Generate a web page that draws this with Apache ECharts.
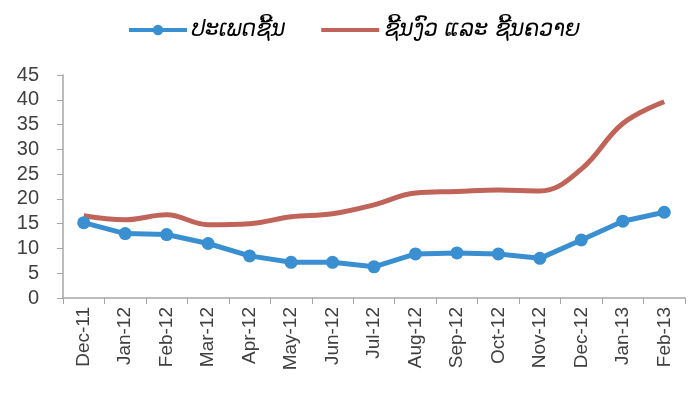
<!DOCTYPE html>
<html>
<head>
<meta charset="utf-8">
<script src="https://cdn.jsdelivr.net/npm/echarts@6/dist/echarts.min.js"></script>
<style>
    html, body { margin: 0; padding: 0; background: #fff; }
    #chart { width: 696px; height: 400px; }
</style>
</head>
<body>
<div id="chart"></div>
<script>
    // months shown on the x axis
    let months = ['Dec-11', 'Jan-12', 'Feb-12', 'Mar-12', 'Apr-12', 'May-12', 'Jun-12',
        'Jul-12', 'Aug-12', 'Sep-12', 'Oct-12', 'Nov-12', 'Dec-12', 'Jan-13', 'Feb-13'];
    let meatTypes = [15.2, 13.0, 12.8, 11.0, 8.5, 7.2, 7.2, 6.3, 8.9, 9.1, 8.9, 8.0, 11.7, 15.5, 17.3];
    let beefBuffalo = [16.6, 15.8, 16.8, 14.8, 15.0, 16.4, 17.0, 18.8, 21.2, 21.5, 21.8, 21.6, 26.0, 35.2, 39.6];
    let seriesNames = ['ປະເພດຊີ້ນ', 'ຊີ້ນງົວ ແລະ ຊີ້ນຄວາຍ'];

    let chart = echarts.init(document.getElementById('chart'));
    let axisColor = '#a6a6a6';
    let textColor = '#404040';
    let blue = '#3a8fd1';
    let red = '#c0645a';

    chart.setOption({
        animation: false,
        legend: {
            top: 14,
            left: 122,
            itemWidth: 58,
            itemHeight: 13,
            itemGap: 34,
            lineStyle: { width: 4 },
            textStyle: {
                fontFamily: 'DejaVu Sans',
                fontStyle: 'italic',
                fontSize: 22,
                color: '#000'
            },
            data: [
                { name: seriesNames[0] },
                // plain line in the legend, no marker
                { name: seriesNames[1], itemStyle: { opacity: 0 } }
            ]
        },
        grid: { left: 63, right: 11, top: 75, bottom: 102 },
        xAxis: {
            type: 'category',
            data: months,
            boundaryGap: true,
            axisLine: { lineStyle: { color: axisColor, width: 1.5 } },
            axisTick: { show: true, length: 6, lineStyle: { color: axisColor } },
            axisLabel: {
                rotate: 90,
                interval: 0,
                margin: 9,
                fontFamily: 'Liberation Sans',
                fontSize: 19,
                color: textColor
            }
        },
        yAxis: {
            type: 'value',
            min: 0,
            max: 45,
            interval: 5,
            splitLine: { show: false },
            axisLine: { show: true, lineStyle: { color: axisColor, width: 1.5 } },
            axisTick: { show: true, length: 6, lineStyle: { color: axisColor } },
            axisLabel: {
                margin: 24,
                fontFamily: 'Liberation Sans',
                fontSize: 20,
                color: textColor
            }
        },
        series: [
            {
                name: seriesNames[0],
                type: 'line',
                data: meatTypes,
                symbol: 'circle',
                symbolSize: 13,
                lineStyle: { color: blue, width: 5 },
                itemStyle: { color: blue },
                z: 3
            },
            {
                name: seriesNames[1],
                type: 'line',
                data: beefBuffalo,
                smooth: 0.4,
                symbol: 'none',
                lineStyle: { color: red, width: 5 },
                itemStyle: { color: red },
                z: 2
            }
        ]
    });
</script>
</body>
</html>
